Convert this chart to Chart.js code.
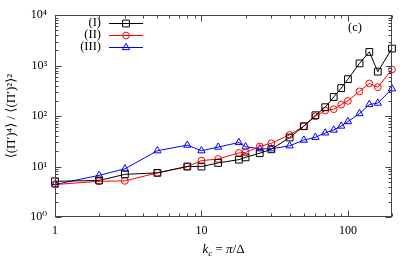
<!DOCTYPE html>
<html>
<head>
<meta charset="utf-8">
<script src="https://cdn.jsdelivr.net/npm/chart.js@4"></script>
<style>
  html, body { margin: 0; padding: 0; background: #fff; }
  canvas { display: block; }
</style>
</head>
<body>
<canvas id="chart" width="415" height="259"></canvas>
<script>
var kc = [1, 2, 3, 5, 8, 10, 13, 18, 20, 25, 30, 40, 50, 60, 70, 80, 90, 100, 120, 140, 160, 200];
var caseI = [5.1, 5.3, 7.0, 7.5, 10, 10, 11.8, 13.7, 15.2, 18.4, 22, 37.6, 63, 104, 150, 239, 359, 540, 1110, 1870, 760, 2180];
var caseII = [4.4, 5.1, 5.2, 7.5, 10, 13.1, 14.1, 18.6, 19, 25, 29, 42.4, 63, 99, 129, 137, 169, 200, 309, 444, 374, 840];
var caseIII = [4.4, 6.7, 9.0, 20.6, 26.6, 20.6, 24.3, 30, 24.7, 22.5, 22.5, 25.8, 33.4, 38, 46.5, 53, 63.5, 78, 112, 170, 181, 348];
var seriesNames = ['(I)', '(II)', '(III)'];
var xTicks = [1, 2, 3, 4, 5, 6, 7, 8, 9, 10, 20, 30, 40, 50, 60, 70, 80, 90, 100, 200];
var yTicks = [];
for (var d = 1; d < 10000; d *= 10) {
    for (var m = 1; m < 10; m++) yTicks.push(m * d);
}
yTicks.push(10000);
var sup = ['⁰', '¹', '²', '³', '⁴'];

var serif = "'Liberation Serif', 'DejaVu Serif', serif";

function isDecade(v) {
    var l = Math.log10(v);
    return Math.abs(l - Math.round(l)) < 1e-9;
}

function pts(ys) {
    return kc.map(function(x, i) { return { x: x, y: ys[i] }; });
}

function makeSet(label, ys, color, style, radius) {
    return {
        label: label,
        data: pts(ys),
        borderColor: color,
        borderWidth: 1,
        pointStyle: style,
        pointRadius: radius,
        pointBorderColor: color,
        pointBackgroundColor: 'rgba(0,0,0,0)',
        pointBorderWidth: 1,
        fill: false,
        clip: false,
        tension: 0
    };
}

// box, inward ticks on all sides, legend, labels
var decorations = {
    id: 'decorations',
    afterDraw: function(chart) {
        var ctx = chart.ctx, a = chart.chartArea;
        var xs = chart.scales.x, ys = chart.scales.y;
        var L = Math.round(a.left) + 0.5, R = Math.round(a.right) - 0.5;
        var T = Math.round(a.top) + 0.5, B = Math.round(a.bottom) - 0.5;
        ctx.save();
        ctx.strokeStyle = '#444';
        ctx.lineWidth = 1;
        ctx.beginPath();
        xs.ticks.forEach(function(t) {
            var px = Math.round(xs.getPixelForValue(t.value)) + 0.5;
            var len = isDecade(t.value) ? 6 : 3;
            ctx.moveTo(px, B); ctx.lineTo(px, B - len);
            ctx.moveTo(px, T); ctx.lineTo(px, T + len);
        });
        ys.ticks.forEach(function(t) {
            var py = Math.round(ys.getPixelForValue(t.value)) + 0.5;
            var len = isDecade(t.value) ? 6 : 3;
            ctx.moveTo(L, py); ctx.lineTo(L + len, py);
            ctx.moveTo(R, py); ctx.lineTo(R - len, py);
        });
        ctx.stroke();
        ctx.strokeRect(L, T, R - L, B - T);

        // legend
        ctx.font = '12.5px ' + serif;
        ctx.textBaseline = 'middle';
        chart.data.datasets.forEach(function(ds, i) {
            var y = 22.5 + i * 12.2;
            ctx.fillStyle = '#000';
            ctx.textAlign = 'right';
            ctx.fillText(seriesNames[i], 101, y);
            ctx.strokeStyle = ds.borderColor;
            ctx.beginPath();
            ctx.moveTo(109, Math.round(y) + 0.5);
            ctx.lineTo(143, Math.round(y) + 0.5);
            ctx.stroke();
            ctx.fillStyle = 'rgba(0,0,0,0)';
            Chart.helpers.drawPoint(ctx, {
                pointStyle: ds.pointStyle,
                radius: ds.pointRadius,
                borderWidth: 1,
                rotation: 0
            }, 126, Math.round(y) + 0.5);
        });

        ctx.fillStyle = '#000';
        ctx.textAlign = 'center';
        ctx.fillText('(c)', 355, 28);

        // x axis title: k_c = π/Δ
        var cx = (a.left + a.right) / 2, by = 253;
        var parts = [
            { t: 'k', f: 'italic 13px ' + serif, dy: 0 },
            { t: 'c', f: 'italic 9px ' + serif, dy: 2.5 },
            { t: ' = ', f: '13px ' + serif, dy: 0 },
            { t: 'π', f: 'italic 13px ' + serif, dy: 0 },
            { t: '/Δ', f: '13px ' + serif, dy: 0 }
        ];
        var w = 0;
        parts.forEach(function(p) { ctx.font = p.f; w += ctx.measureText(p.t).width; });
        var x = cx - w / 2;
        ctx.textAlign = 'left';
        ctx.textBaseline = 'alphabetic';
        parts.forEach(function(p) {
            ctx.font = p.f;
            ctx.fillText(p.t, x, by + p.dy);
            x += ctx.measureText(p.t).width;
        });
        ctx.restore();
    }
};

var ctx = document.getElementById('chart');
var chartInstance = new Chart(ctx, {
    type: 'line',
    data: {
        datasets: [
            makeSet('(I)', caseI, '#000000', 'rect', 4.8),
            makeSet('(II)', caseII, '#ff0000', 'circle', 3.4),
            makeSet('(III)', caseIII, '#0000ff', 'triangle', 4.2)
        ]
    },
    options: {
        responsive: false,
        animation: false,
        devicePixelRatio: 1,
        layout: { padding: { top: 13, right: 23, left: 0, bottom: 0 } },
        plugins: {
            legend: { display: false },
            tooltip: { enabled: false }
        },
        scales: {
            x: {
                type: 'logarithmic',
                min: 1,
                max: 200,
                grid: { display: false, drawTicks: false },
                border: { display: false },
                afterBuildTicks: function(s) {
                    s.ticks = xTicks.map(function(v) { return { value: v }; });
                },
                afterFit: function(s) { s.height = 42; },
                ticks: {
                    autoSkip: false,
                    maxRotation: 0,
                    padding: 7,
                    color: '#000',
                    font: { family: serif, size: 12 },
                    callback: function(v) {
                        return isDecade(v) ? String(Math.round(v)) : '';
                    }
                }
            },
            y: {
                type: 'logarithmic',
                min: 1,
                max: 10000,
                grid: { display: false, drawTicks: false },
                border: { display: false },
                afterBuildTicks: function(s) {
                    s.ticks = yTicks.map(function(v) { return { value: v }; });
                },
                afterFit: function(s) { s.width = 55; },
                ticks: {
                    autoSkip: false,
                    padding: 8,
                    color: '#000',
                    font: { family: serif, size: 12 },
                    callback: function(v) {
                        return isDecade(v) ? '10' + sup[Math.round(Math.log10(v))] : '';
                    }
                },
                title: {
                    display: true,
                    text: '⟨(Π′)⁴⟩ / ⟨(Π′)²⟩²',
                    color: '#000',
                    font: { family: serif, size: 13 },
                    padding: { top: 4, bottom: 0 }
                }
            }
        }
    },
    plugins: [decorations]
});
</script>
</body>
</html>
